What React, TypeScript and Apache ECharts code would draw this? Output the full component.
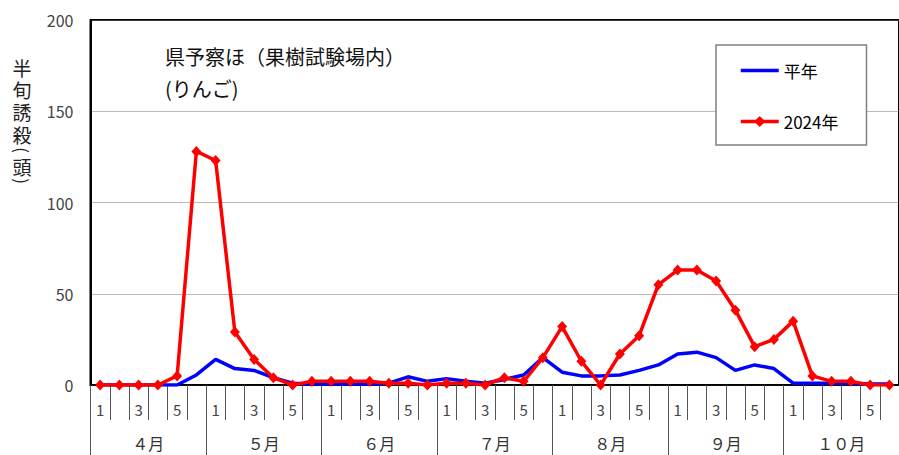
import React, { useEffect, useRef } from "react";
import * as echarts from "echarts";

const pentads: string[] = [];
const monthNames = ["４月", "５月", "６月", "７月", "８月", "９月", "１０月"];
for (let m = 0; m < monthNames.length; m++) {
  for (let p = 1; p <= 6; p++) pentads.push(String(p));
}
const shownPentadLabels = ["1", "3", "5"];

const normalYear = [
  0, 0, 0, 0, 0, 5.5, 14, 9, 8, 4, 1, 0.5,
  0.5, 0.5, 0.5, 1, 4.5, 2, 3.5, 2, 1, 3, 5.5, 15, 7, 5,
  5, 5.5, 8, 11, 17, 18, 15, 8, 11, 9, 1, 1, 1, 1, 0.5, 0.5,
];
const year2024 = [
  0, 0, 0, 0, 5, 128, 123, 29, 14, 4, 0, 2,
  2, 2, 2, 1, 1, 0, 1, 1, 0, 4, 2, 15, 32, 13,
  0, 17, 27, 55, 63, 63, 57, 41, 21, 25, 35, 5, 2, 2, 0, 0,
];
const seriesNames = ["平年", "2024年"];
const titleLines = ["県予察ほ（果樹試験場内）", "(りんご)"];
const yAxisNameMain = ["半", "旬", "誘", "殺"];
const yAxisNameUnit = ["(", "頭", ")"];
const yAxisNameUnitY = [150, 166, 181];

const FONT = '"Noto Sans CJK JP", "Noto Sans", sans-serif';

export default function App() {
  const ref = useRef<HTMLDivElement>(null);
  useEffect(() => {
    if (!ref.current) return;
    const chart = echarts.init(ref.current, undefined, { renderer: "svg" });
    chart.setOption({
      animation: false,
      backgroundColor: "#fff",
      textStyle: { fontFamily: FONT },
      grid: {
        left: 90.5,
        top: 20,
        width: 814,
        height: 365,
        show: true,
        borderColor: "#000",
        borderWidth: 2,
        backgroundColor: "transparent",
      },
      legend: {
        orient: "vertical",
        left: 716,
        top: 45,
        padding: [17, 28, 15, 23],
        itemWidth: 38,
        itemHeight: 14,
        itemGap: 34,
        borderColor: "#808080",
        borderWidth: 1.5,
        backgroundColor: "#fff",
        textStyle: { fontSize: 17, color: "#000", fontFamily: FONT },
        data: [
          {
            name: seriesNames[0],
            itemStyle: { opacity: 0 },
            lineStyle: { color: "#0000ff", width: 3.5, opacity: 1 },
          },
          { name: seriesNames[1], lineStyle: { color: "#ff0000", width: 3.5 } },
        ],
      },
      graphic: [
        {
          type: "text",
          left: 165,
          top: 40,
          style: {
            text: titleLines.join("\n"),
            font: `20px ${FONT}`,
            fill: "#111",
            lineHeight: 32,
          },
        },
        {
          type: "text",
          x: 22,
          y: 56,
          style: {
            text: yAxisNameMain.join("\n"),
            font: `19px ${FONT}`,
            fill: "#222",
            align: "center",
            verticalAlign: "top",
            lineHeight: 22.3,
          },
        },
        ...yAxisNameUnit.map((c, i) => {
          const isParen = c === "(" || c === ")";
          return {
            type: "text",
            x: 22,
            y: yAxisNameUnitY[i],
            rotation: isParen ? -Math.PI / 2 : 0,
            style: {
              text: c,
              font: `${isParen ? 17 : 19}px ${FONT}`,
              fill: "#222",
              align: "center",
              verticalAlign: "middle",
            },
          };
        }),
      ],
      xAxis: [
        {
          type: "category",
          data: pentads,
          boundaryGap: true,
          axisLine: { lineStyle: { color: "#000", width: 1.5 } },
          axisTick: { show: true, interval: 0, length: 35, lineStyle: { color: "#555", width: 1 } },
          axisLabel: {
            interval: 0,
            margin: 17,
            fontSize: 15,
            color: "#444",
            fontFamily: FONT,
            formatter: (v: string) => (shownPentadLabels.includes(v) ? v : ""),
          },
          splitLine: { show: false },
        },
        {
          type: "category",
          data: monthNames,
          position: "bottom",
          boundaryGap: true,
          axisLine: { show: false },
          axisTick: { show: true, interval: 0, length: 70, lineStyle: { color: "#555", width: 1 } },
          axisLabel: { interval: 0, margin: 50, fontSize: 16, color: "#333", fontFamily: FONT },
          splitLine: { show: false },
        },
      ],
      yAxis: {
        type: "value",
        min: 0,
        max: 200,
        interval: 50,
        axisLine: { show: true, lineStyle: { color: "#000", width: 2 } },
        axisTick: { show: false },
        axisLabel: { margin: 17, fontSize: 16, color: "#444", fontFamily: FONT },
        splitLine: { show: true, lineStyle: { type: "dotted", color: "#777", width: 1 } },
      },
      series: [
        {
          name: seriesNames[0],
          type: "line",
          xAxisIndex: 0,
          data: normalYear,
          symbol: "none",
          lineStyle: { color: "#0000ff", width: 3.5 },
          itemStyle: { color: "#0000ff" },
        },
        {
          name: seriesNames[1],
          type: "line",
          xAxisIndex: 0,
          data: year2024,
          symbol: "diamond",
          symbolSize: [10, 11],
          lineStyle: { color: "#ff0000", width: 3.5 },
          itemStyle: { color: "#ff0000" },
        },
      ],
    });
    return () => chart.dispose();
  }, []);
  return (
    <div
      ref={ref}
      style={{ position: "fixed", left: 0, top: 0, width: 899, height: 455 }}
    />
  );
}
